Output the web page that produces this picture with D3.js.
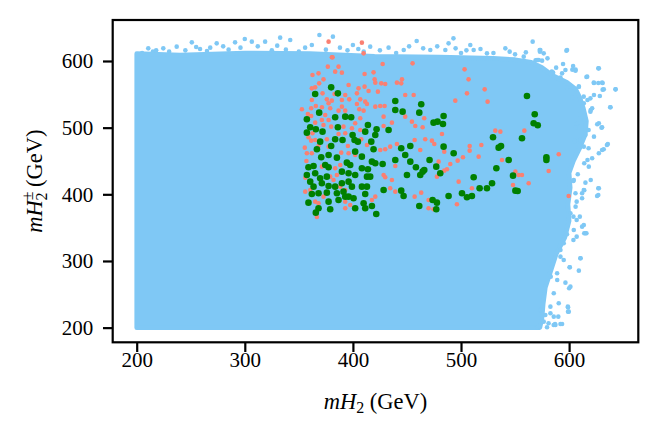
<!DOCTYPE html>
<html>
<head>
<meta charset="utf-8">
<script src="https://cdn.jsdelivr.net/npm/d3@7"></script>
<style>
  body { margin: 0; background: #fff; }
  svg text { font-family: "Liberation Serif", "DejaVu Serif", serif; }
</style>
</head>
<body>
<svg id="chart" width="658" height="435"></svg>
<script>
// tick values
var xTicks = [200, 300, 400, 500, 600];
var yTicks = [200, 300, 400, 500, 600];

// outline of the dense light-blue scan region (mH2, mH2+-)
var blueOutline = [
  [200, 200], [200, 611], [240, 609], [300, 612], [360, 611], [420, 607], [480, 606],
  [530, 604], [550, 602], [565, 598], [575, 590], [585, 578], [598, 568], [606, 558],
  [610, 545], [613, 530], [616, 510], [615, 490], [610, 470], [604, 450], [600, 432],
  [601, 410], [599, 385], [600, 360], [596, 335], [588, 310], [583, 285], [578, 260],
  [576, 235], [575, 215], [573, 200]
];

// scattered light-blue points along the edges of the region
var bluePoints = [
  [210.7, 619], [224.6, 619], [237, 621.5], [251, 628], [258.6, 618], [274, 626.5], [291, 628],
  [300, 633], [306.5, 629], [318.8, 629], [332.7, 635], [342, 631.5], [355.8, 620], [369, 639],
  [381.5, 636.5], [416, 621.5], [433, 620], [447, 616.5], [459, 630], [471.6, 616.5], [485.5, 616.5],
  [488.5, 626.5], [493, 634], [508.6, 624], [511.7, 616.5], [524, 611.5], [541, 619], [558, 606.5],
  [566.3, 629], [573.4, 616.5], [571.9, 601.5], [584, 584], [230, 614], [265, 615], [285, 617],
  [325, 616], [395, 616], [405, 618], [440, 612], [500, 612], [550, 610], [215, 614], [350, 614],
  [205, 612], [218, 616], [245, 616], [255, 621], [268, 620], [280, 622], [296, 620], [312, 622],
  [330, 623], [338, 617], [362, 624], [375, 617], [388, 620], [400, 624], [410, 614], [425, 616],
  [452, 622], [465, 619], [478, 622], [495, 619], [505, 616], [518, 618], [530, 612], [545, 614],
  [560, 613], [580, 604],
  [643, 557.5], [638, 530.5], [631, 567], [627, 567], [623, 567], [631, 557], [627, 589], [616, 576],
  [606, 587], [603, 587], [597.5, 615.5], [583, 581.5], [573, 614], [569, 601], [635, 474], [632, 467.5],
  [630, 500], [626, 505], [627, 409], [627, 399], [620, 421.5], [614, 406], [612, 401.5], [614, 341.5],
  [612, 351.5], [610.5, 304], [600.5, 290.5], [600, 259], [599, 230.5], [599, 224], [592, 205.5],
  [587, 205.5], [590, 216.5], [583, 276.5], [589, 271.5], [595, 301.5], [592, 316.5], [604, 331.5],
  [607, 336.5], [615, 341.5], [607, 361.5], [604, 366.5], [606, 381.5], [607, 389], [617, 451.5],
  [614, 446.5], [618, 469], [615, 489], [614, 511.5], [618, 496.5], [623, 486.5], [620, 526.5],
  [617, 541.5], [623, 549], [609, 561.5], [613.5, 546.5], [576.5, 209], [581, 206.5], [585.7, 204],
  [582.7, 221.5], [573.4, 226.5], [578, 219], [598, 560], [592, 575], [610, 520], [605, 480],
  [608, 430], [598, 340], [604, 420], [606, 500], [603, 545], [588, 590],
  [598.1, 616.5], [576.5, 611.5], [572.8, 616.5], [570.4, 601.5], [575, 600.5], [594.4, 595.5],
  [603.7, 592.5], [605.9, 585.5], [596.6, 586.5], [593.5, 581.5], [585.2, 582.5], [627.5, 589],
  [616.7, 576.5], [622.8, 567.5], [630.5, 567.5], [632.1, 557.5], [642.9, 557.5], [638.3, 530.5],
  [619.7, 544], [628.4, 547.5], [621.3, 529], [619.7, 524], [627.5, 506.5], [630.5, 500.5],
  [635.8, 475.5], [630.5, 466.5], [627.5, 461.5], [621.3, 454], [618.2, 441.5], [615.1, 417.5],
  [627.5, 409], [625.9, 397.5], [613.6, 406.5], [612, 394], [609.9, 366.5], [613.6, 354],
  [616, 341.5], [604.3, 346.5], [610.5, 304], [609, 285.5], [600.6, 290.5], [601.2, 261.5],
  [596.6, 267.5], [598.8, 231.5], [599.7, 224], [593.5, 205.5], [587.3, 204], [579.6, 200.5],
  [570.4, 200.5], [590.4, 236.5], [585.8, 216.5], [607.4, 506.5], [610.5, 481.5], [613.6, 471.5],
  [604.3, 421.5], [605.9, 401.5], [601.2, 371.5], [598.1, 351.5], [595, 326.5], [592, 306.5],
  [588.9, 281.5], [585.8, 251.5], [582.7, 231.5], [609, 561.5], [613.6, 536.5]
];

// salmon points
var redPoints = [
  [377.5, 629], [408.3, 627.5], [380.5, 605.6], [409.9, 611.5], [381.2, 605.5], [376.8, 591.5], [386.7, 591.5],
  [427.5, 595.5], [455.2, 596.5], [368.2, 581.5], [362.6, 579], [383.6, 584], [389.8, 582.5],
  [410.8, 580.5], [419.1, 583], [420.1, 572.5], [420.7, 567.5], [440.7, 567.5], [445.4, 572.5],
  [444.7, 566.5], [426.2, 566.5], [429.9, 565.5], [372.8, 572.5], [365.1, 560.5], [362, 559],
  [371.9, 551.5], [368.8, 566.5], [396, 564], [405.2, 559], [410.8, 561.5], [403.7, 551.5],
  [414.5, 555], [423.1, 554], [392.9, 549], [396.6, 542.5], [389.8, 541.5], [380.5, 540.5],
  [383, 550.5], [406.8, 542.5], [411.4, 539], [403.7, 535.5], [413, 535.5], [448.4, 549],
  [456.2, 549], [425.3, 532.5], [429.3, 532.5], [362, 541.5], [361.4, 529], [365.7, 532.5],
  [377.5, 536.5], [375.9, 542.5], [352.8, 527.5], [358.3, 520.5], [361.4, 517.5], [371.3, 530.5],
  [379, 529], [405.9, 527.5], [409.9, 525.5], [420.7, 531.5], [406.8, 514], [392.9, 525.5],
  [386.7, 525.5], [389.8, 531.5], [374.4, 519], [371.3, 511.5], [377.5, 511.5], [379.9, 501.5],
  [372.8, 504], [365.1, 507.5], [454.6, 509], [448.4, 516.5], [457.7, 502.5], [464.5, 500.5],
  [428.4, 516.5], [436.1, 507.5], [428.4, 502.5], [402.1, 506.5], [406.8, 496.5], [399.1, 499],
  [358.9, 485.5], [361.4, 480.5], [362.6, 491.5], [365.1, 481.5], [375.9, 482.5], [391.3, 501.5],
  [392.9, 491.5], [386.7, 490.5], [407.7, 482.5], [413, 474], [395.4, 472.5], [357.4, 461.5],
  [362, 461.5], [368.2, 472.5], [377.5, 471.5], [389.2, 462.5], [396, 461.5], [402.1, 459],
  [425.3, 466.5], [429.9, 467.5], [434.5, 471.5], [440.7, 475.5], [457.1, 481.5], [439.2, 442.5],
  [428.4, 429], [429.9, 425.5], [436.1, 421.5], [371.3, 441.5], [383.6, 439], [388.3, 444],
  [379, 426.5], [382.1, 421.5], [385.2, 429], [388.3, 411.5], [392.9, 406.5], [360.5, 406.5],
  [355.9, 404], [434.5, 409], [439.2, 404], [365.1, 389], [368.2, 386.5], [372.8, 396.5],
  [392.9, 389], [392.9, 379], [397.5, 384], [366.7, 366], [365.1, 371.5], [420.7, 396.5],
  [417.6, 391.5], [457.1, 396.5], [463.2, 402.5], [355.5, 470], [357, 450], [356, 425],
  [503.3, 587.5], [507, 572.5], [505.5, 551.5], [521.9, 557.5], [524.6, 539], [494.7, 540.5],
  [466, 514], [482.4, 490.5], [466.9, 482.5], [473.1, 480.5], [475.3, 475.5], [462.3, 466.5],
  [484.5, 464], [479.3, 449], [490.1, 445.5], [487, 437.5], [484.5, 435.5], [477.7, 426.5],
  [496.9, 450.5], [501.8, 455.5], [508, 472.5], [508, 465.5], [518.8, 474], [516.3, 456.5],
  [531.7, 495.5], [536.4, 494], [558.6, 495.5], [537.9, 451.5], [550.3, 434], [553.3, 429],
  [556.4, 429], [562.6, 416.5], [581.1, 435], [590.4, 460], [599.6, 397.5], [548.1, 414],
  [497.8, 419], [510.1, 409], [496.2, 385], [470, 391.5], [470, 379], [474.6, 377.5]
];

// green points
var greenPoints = [
  [365.1, 550.5], [379.9, 560.5], [386.1, 551.5], [439.2, 540], [463.2, 535], [439.2, 526.5],
  [446, 524], [461.4, 522.5], [357.4, 512.5], [368.8, 522.5], [383.6, 515.5], [392.9, 516.5],
  [398.4, 515.5], [413.9, 504], [421.9, 497.5], [411.4, 494], [433, 496.5], [386.1, 500.5],
  [360.5, 500.5], [357.4, 492.5], [365.7, 497.5], [371.9, 494], [369.7, 479], [366.7, 467.5],
  [383.6, 482.5], [390.4, 481.5], [399.7, 489], [401.5, 481.5], [404.6, 479], [420.7, 489],
  [417, 479], [419.1, 467.5], [402.1, 464], [379.9, 472.5], [370.7, 455.5], [377.5, 459],
  [385.2, 455], [394.4, 447.5], [397.5, 444], [408.3, 456.5], [417.6, 449], [420.7, 446.5],
  [427.5, 445.5], [413.9, 437.5], [439.2, 451.5], [444.7, 469], [453.1, 472.5], [448.4, 459],
  [453.1, 449], [458.3, 440.5], [464.5, 434], [450, 429], [358.9, 440.5], [363.6, 442.5],
  [374.4, 444], [377.5, 440.5], [357.4, 429], [365.1, 431.5], [369.7, 424], [375.9, 426.5],
  [389.8, 434], [396, 431.5], [402.1, 429], [408.3, 439], [413, 426.5], [416, 426.5],
  [360.5, 419], [363.6, 411.5], [371.3, 416.5], [377.5, 412.5], [383.6, 411.5], [389.8, 416.5],
  [396, 419], [399.1, 411.5], [408.3, 411.5], [413, 411.5], [362, 400.5], [368.2, 401.5],
  [375.9, 402.5], [385.2, 401.5], [391.3, 404], [396, 396.5], [411.4, 400.5], [428.4, 406.5],
  [444.7, 405.5], [446.9, 397.5], [358.9, 387.5], [377.5, 389], [386.7, 391.5], [392.9, 396.5],
  [400.6, 394], [409.9, 386.5], [417.6, 382.5], [411.4, 379], [402.1, 379], [368.2, 379],
  [365.7, 372.5], [379, 377.5], [421.6, 370.5], [461.4, 382.5],
  [483.9, 517.5], [474.6, 507.5], [478.3, 509], [483.3, 505.5], [561, 547.5], [568.2, 520],
  [567.2, 506.5], [571, 503.5], [529.6, 485.5], [537, 472.5], [534.8, 470], [556.4, 484],
  [483.9, 471.5], [493.2, 461.5], [470.9, 451.5], [477.1, 441.5], [480.8, 431.5], [466, 436.5],
  [462.3, 429], [544.1, 451.5], [579, 455.5], [579, 451.5], [532.7, 439], [511.7, 425.5],
  [548.1, 428], [528.7, 416.5], [524, 409], [517.2, 409], [550.3, 405.5], [552.4, 405],
  [500.9, 401.5], [505.5, 395.5], [510.1, 397.5], [488.5, 397.5], [473.7, 391.5], [477.7, 387.5],
  [477.1, 377.5]
];

var svg = d3.select("#chart");
var mLeft = 112.7, mRight = 638.3, mTop = 20, mBottom = 342.3;

var x = d3.scaleLinear().domain([177.8, 664]).range([mLeft, mRight]);
var y = d3.scaleLinear().domain([178, 661.5]).range([mBottom, mTop]);

var blue = "#7fc8f5", salmon = "#fa8072", green = "#008000";

var plot = svg.append("g");

// dense region
var line = d3.line().x(d => x(d[0])).y(d => y(d[1]));
plot.append("path")
    .attr("d", line(blueOutline) + "Z")
    .attr("fill", blue)
    .attr("stroke", blue)
    .attr("stroke-width", 4.6)
    .attr("stroke-linejoin", "round");

plot.selectAll(".b").data(bluePoints).enter().append("circle")
    .attr("class", "b")
    .attr("cx", d => x(d[0])).attr("cy", d => y(d[1]))
    .attr("r", 2.3).attr("fill", blue);

plot.selectAll(".r").data(redPoints).enter().append("circle")
    .attr("class", "r")
    .attr("cx", d => x(d[0])).attr("cy", d => y(d[1]))
    .attr("r", 2.3).attr("fill", salmon);

plot.selectAll(".g").data(greenPoints).enter().append("circle")
    .attr("class", "g")
    .attr("cx", d => x(d[0])).attr("cy", d => y(d[1]))
    .attr("r", 3.3).attr("fill", green);

// axes
var xAxis = svg.append("g")
    .attr("transform", "translate(0," + mBottom + ")")
    .call(d3.axisBottom(x).tickValues(xTicks).tickSize(9.7).tickSizeOuter(0));
xAxis.select(".domain").remove();
xAxis.selectAll(".tick line").attr("stroke-width", 2.2);
xAxis.selectAll(".tick text")
    .attr("y", 25).attr("dy", 0)
    .attr("font-size", 21).attr("font-family", "Liberation Serif").attr("fill", "#000");

var yAxis = svg.append("g")
    .attr("transform", "translate(" + mLeft + ",0)")
    .call(d3.axisLeft(y).tickValues(yTicks).tickSize(9.7).tickSizeOuter(0));
yAxis.select(".domain").remove();
yAxis.selectAll(".tick line").attr("stroke-width", 2.2);
yAxis.selectAll(".tick text")
    .attr("x", -19.5).attr("dy", "0.33em")
    .attr("font-size", 21).attr("font-family", "Liberation Serif").attr("fill", "#000");

// frame
svg.append("rect")
    .attr("x", mLeft).attr("y", mTop)
    .attr("width", mRight - mLeft).attr("height", mBottom - mTop)
    .attr("fill", "none").attr("stroke", "#000").attr("stroke-width", 2.2);

// x label
var xl = svg.append("text")
    .attr("x", (mLeft + mRight) / 2).attr("y", 409)
    .attr("text-anchor", "middle").attr("font-size", 22.5);
xl.append("tspan").attr("font-style", "italic").text("mH");
xl.append("tspan").attr("font-size", 16).attr("dy", 4).text("2");
xl.append("tspan").attr("dy", -4).text(" (GeV)");

// y label
var yl = svg.append("text")
    .attr("transform", "translate(42," + (mTop + mBottom) / 2 + ") rotate(-90)")
    .attr("text-anchor", "middle").attr("font-size", 22.5);
yl.append("tspan").attr("font-style", "italic").text("mH");
yl.append("tspan").attr("font-size", 16).attr("dy", -9).text("±");
yl.append("tspan").attr("font-size", 16).attr("dx", -9).attr("dy", 14).text("2");
yl.append("tspan").attr("dy", -5).text(" (GeV)");
</script>
</body>
</html>
